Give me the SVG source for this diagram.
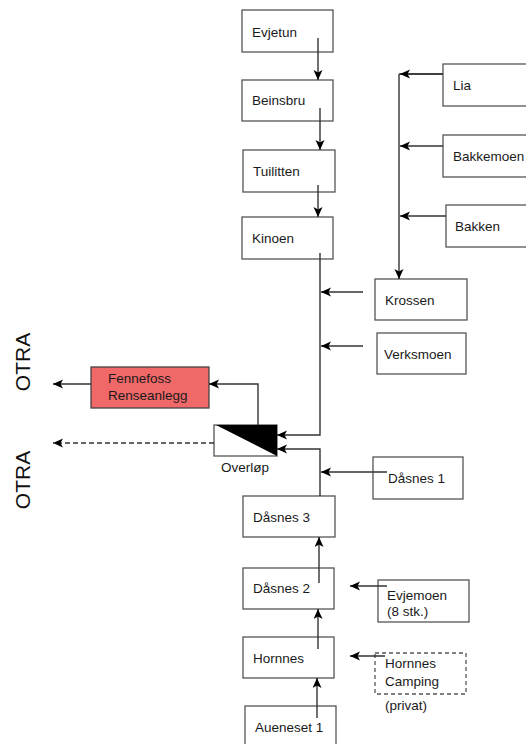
<svg xmlns="http://www.w3.org/2000/svg" width="526" height="744" viewBox="0 0 526 744">
<defs>
<marker id="ah" markerUnits="userSpaceOnUse" markerWidth="11" markerHeight="10" refX="10" refY="4.5" orient="auto">
<path d="M0,0 L10,4.5 L0,9 L2.5,4.5 z" fill="#000"/>
</marker>
<style>
.box{fill:#fff;stroke:#555;stroke-width:1.3}
.dbox{fill:#fff;stroke:#555;stroke-width:1.3;stroke-dasharray:4 3}
.red{fill:#f06868;stroke:#444;stroke-width:1.3}
.t{font-family:"Liberation Sans",Arial,sans-serif;font-size:13.5px;fill:#1a1a1a}
.otra{font-family:"Liberation Sans",sans-serif;font-size:21px;fill:#111}
.c{fill:none;stroke:#333;stroke-width:1.4;marker-end:url(#ah)}
.cn{fill:none;stroke:#333;stroke-width:1.4}
.cd{fill:none;stroke:#333;stroke-width:1.4;stroke-dasharray:5 3;marker-end:url(#ah)}
</style>
</defs>
<rect width="526" height="744" fill="#fff"/>

<g id="otra1"><text class="otra" transform="translate(30,362) rotate(-90)" text-anchor="middle">OTRA</text></g>
<g id="otra2"><text class="otra" transform="translate(30,480) rotate(-90)" text-anchor="middle">OTRA</text></g>

<g id="evjetun"><rect class="box" x="242" y="10" width="91" height="42"/><text class="t" x="252" y="37">Evjetun</text></g>
<g id="beinsbru"><rect class="box" x="242" y="80" width="91" height="41"/><text class="t" x="252" y="105">Beinsbru</text></g>
<g id="tuilitten"><rect class="box" x="243" y="150" width="92" height="42"/><text class="t" x="253" y="176">Tuilitten</text></g>
<g id="kinoen"><rect class="box" x="242" y="217" width="91" height="42"/><text class="t" x="252" y="243">Kinoen</text></g>
<g id="lia"><rect class="box" x="443" y="64" width="95" height="42"/><text class="t" x="453" y="90">Lia</text></g>
<g id="bakkemoen"><rect class="box" x="443" y="135" width="95" height="42"/><text class="t" x="453" y="161">Bakkemoen</text></g>
<g id="bakken"><rect class="box" x="446" y="205" width="92" height="42"/><text class="t" x="455" y="231">Bakken</text></g>
<g id="krossen"><rect class="box" x="375" y="279" width="92" height="41"/><text class="t" x="385" y="305">Krossen</text></g>
<g id="verksmoen"><rect class="box" x="377" y="333" width="89" height="41"/><text class="t" x="384" y="359">Verksmoen</text></g>
<g id="fennefoss"><rect class="red" x="91" y="367" width="118" height="41"/><text class="t" x="108" y="383">Fennefoss</text><text class="t" x="108" y="400">Renseanlegg</text></g>
<g id="overlop"><rect class="box" x="214" y="425" width="63" height="31"/><polygon points="216,425 277,425 277,456" fill="#000"/><text class="t" x="245" y="472" text-anchor="middle">Overløp</text></g>
<g id="dasnes1"><rect class="box" x="373" y="457" width="90" height="42"/><text class="t" x="388" y="483">Dåsnes 1</text></g>
<g id="dasnes3"><rect class="box" x="243" y="496" width="92" height="41"/><text class="t" x="253" y="522">Dåsnes 3</text></g>
<g id="dasnes2"><rect class="box" x="243" y="568" width="91" height="41"/><text class="t" x="253" y="593">Dåsnes 2</text></g>
<g id="hornnes"><rect class="box" x="243" y="637" width="91" height="41"/><text class="t" x="253" y="663">Hornnes</text></g>
<g id="aueneset1"><rect class="box" x="245" y="706" width="91" height="50"/><text class="t" x="255" y="732">Aueneset 1</text></g>
<g id="evjemoen"><rect class="box" x="378" y="580" width="91" height="42"/><text class="t" x="387" y="600">Evjemoen</text><text class="t" x="387" y="616">(8 stk.)</text></g>
<g id="hornnescamping"><rect class="dbox" x="375" y="653" width="91" height="41"/><text class="t" x="385" y="668">Hornnes</text><text class="t" x="385" y="686">Camping</text><text class="t" x="385" y="710">(privat)</text></g>

<g id="connectors">
<path class="c" d="M318,38 V80"/>
<path class="c" d="M320,108 V150"/>
<path class="c" d="M318,185 V217"/>
<path class="c" d="M320,253 V435 H277"/>
<path class="cn" d="M399,74 H443"/>
<path class="c" d="M443,74 H400"/>
<path class="c" d="M399,74 V279"/>
<path class="c" d="M443,146 H400"/>
<path class="c" d="M446,216 H400"/>
<path class="c" d="M363,292 H321"/>
<path class="c" d="M363,346 H321"/>
<path class="c" d="M258,425 V384 H209"/>
<path class="c" d="M91,384 H53"/>
<path class="cd" d="M214,443 H53"/>
<path class="c" d="M320,496 V449 H277"/>
<path class="c" d="M387,472 H321"/>
<path class="c" d="M319,583 V537"/>
<path class="c" d="M318,649 V609"/>
<path class="c" d="M317,718 V678"/>
<path class="c" d="M387,586 H350"/>
<path class="c" d="M385,656 H350"/>
</g>
</svg>
